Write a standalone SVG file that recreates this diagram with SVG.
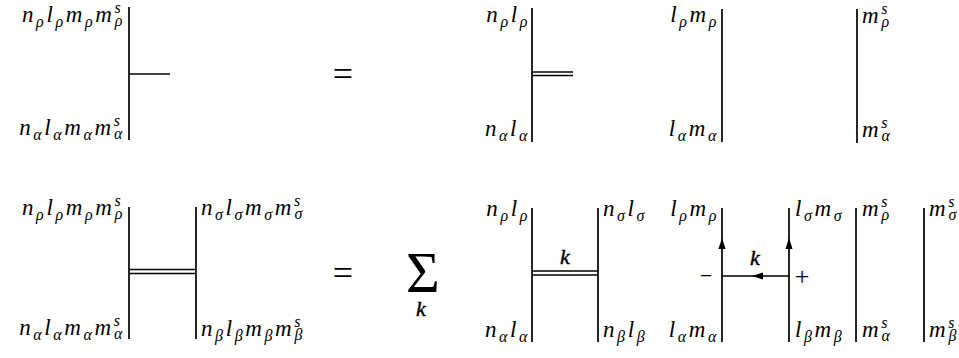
<svg xmlns="http://www.w3.org/2000/svg" width="959" height="358" viewBox="0 0 959 358">
<defs>
<style>
.bg{fill:#fff}
.ln{stroke:#000;stroke-width:1.7;fill:none}
.dl{stroke:#000;stroke-width:1.3;fill:none}
.t{font-family:"Liberation Serif",serif;font-style:italic;font-size:23px;letter-spacing:2.6px;fill:#000}
.s{font-size:16px}
.eq{font-family:"Liberation Serif",serif;font-size:36px;fill:#000;text-anchor:middle}
.sig{font-family:"Liberation Serif",serif;font-size:58px;fill:#000;text-anchor:middle}
.k{font-family:"Liberation Serif",serif;font-style:italic;font-size:22px;fill:#000;stroke:#000;stroke-width:0.4;text-anchor:middle}
.pm{font-family:"Liberation Serif",serif;font-size:26px;fill:#000;text-anchor:middle}
.mn{font-size:22px}
.e{text-anchor:end}
</style>
<path id="ah" d="M0,0 L-3.6,11 L3.6,11 Z" fill="#000"/>
</defs>
<rect class="bg" width="959" height="358"/>

<!-- top row -->
<g id="top-lhs">
<line class="ln" x1="129" y1="7" x2="129" y2="140"/>
<text class="t e" x="125" y="22">n<tspan class="s" dy="5">ρ</tspan><tspan dy="-5">l</tspan><tspan class="s" dy="5">ρ</tspan><tspan dy="-5">m</tspan><tspan class="s" dy="5">ρ</tspan><tspan dy="-5">m</tspan><tspan class="s" dy="-9">s</tspan><tspan class="s" dx="-8.5" dy="13">ρ</tspan></text>
<text class="t e" x="125" y="135">n<tspan class="s" dy="5">α</tspan><tspan dy="-5">l</tspan><tspan class="s" dy="5">α</tspan><tspan dy="-5">m</tspan><tspan class="s" dy="5">α</tspan><tspan dy="-5">m</tspan><tspan class="s" dy="-9">s</tspan><tspan class="s" dx="-8.5" dy="13">α</tspan></text>
</g>
<text id="eq-top" class="eq" x="343" y="86">=</text>
<g id="top-r1">
<line class="ln" x1="532" y1="8" x2="532" y2="142"/>
<text class="t e" x="530" y="22">n<tspan class="s" dy="5">ρ</tspan><tspan dy="-5">l</tspan><tspan class="s" dy="5">ρ</tspan></text>
<text class="t e" x="530" y="136">n<tspan class="s" dy="5">α</tspan><tspan dy="-5">l</tspan><tspan class="s" dy="5">α</tspan></text>
</g>
<g id="top-r2">
<line class="ln" x1="722" y1="9" x2="722" y2="142"/>
<text class="t e" x="719" y="22">l<tspan class="s" dy="5">ρ</tspan><tspan dy="-5">m</tspan><tspan class="s" dy="5">ρ</tspan></text>
<text class="t e" x="719" y="136">l<tspan class="s" dy="5">α</tspan><tspan dy="-5">m</tspan><tspan class="s" dy="5">α</tspan></text>
</g>
<g id="top-r3">
<line class="ln" x1="857" y1="9" x2="857" y2="143"/>
<text class="t" x="862" y="23">m<tspan class="s" dy="-9">s</tspan><tspan class="s" dx="-8.5" dy="13">ρ</tspan></text>
<text class="t" x="862" y="137">m<tspan class="s" dy="-9">s</tspan><tspan class="s" dx="-8.5" dy="13">α</tspan></text>
</g>

<!-- bottom row -->
<g id="bot-lhs">
<line class="ln" x1="129" y1="207" x2="129" y2="339"/>
<line class="ln" x1="196" y1="207" x2="196" y2="339"/>
<text class="t e" x="125" y="215">n<tspan class="s" dy="5">ρ</tspan><tspan dy="-5">l</tspan><tspan class="s" dy="5">ρ</tspan><tspan dy="-5">m</tspan><tspan class="s" dy="5">ρ</tspan><tspan dy="-5">m</tspan><tspan class="s" dy="-9">s</tspan><tspan class="s" dx="-8.5" dy="13">ρ</tspan></text>
<text class="t e" x="125" y="335">n<tspan class="s" dy="5">α</tspan><tspan dy="-5">l</tspan><tspan class="s" dy="5">α</tspan><tspan dy="-5">m</tspan><tspan class="s" dy="5">α</tspan><tspan dy="-5">m</tspan><tspan class="s" dy="-9">s</tspan><tspan class="s" dx="-8.5" dy="13">α</tspan></text>
<text class="t" x="201" y="215">n<tspan class="s" dy="5">σ</tspan><tspan dy="-5">l</tspan><tspan class="s" dy="5">σ</tspan><tspan dy="-5">m</tspan><tspan class="s" dy="5">σ</tspan><tspan dy="-5">m</tspan><tspan class="s" dy="-9">s</tspan><tspan class="s" dx="-8.5" dy="13">σ</tspan></text>
<text class="t" x="201" y="336">n<tspan class="s" dy="5">β</tspan><tspan dy="-5">l</tspan><tspan class="s" dy="5">β</tspan><tspan dy="-5">m</tspan><tspan class="s" dy="5">β</tspan><tspan dy="-5">m</tspan><tspan class="s" dy="-9">s</tspan><tspan class="s" dx="-8.5" dy="13">β</tspan></text>
</g>
<text id="eq-bot" class="eq" x="343" y="285">=</text>
<g id="sum">
<text class="sig" x="423" y="292">Σ</text>
<text class="k" x="421" y="316">k</text>
</g>
<g id="bot-r1">
<line class="ln" x1="532" y1="208" x2="532" y2="342"/>
<line class="ln" x1="598" y1="208" x2="598" y2="342"/>
<text class="t e" x="530" y="216">n<tspan class="s" dy="5">ρ</tspan><tspan dy="-5">l</tspan><tspan class="s" dy="5">ρ</tspan></text>
<text class="t e" x="530" y="337">n<tspan class="s" dy="5">α</tspan><tspan dy="-5">l</tspan><tspan class="s" dy="5">α</tspan></text>
<text class="t" x="603" y="216">n<tspan class="s" dy="5">σ</tspan><tspan dy="-5">l</tspan><tspan class="s" dy="5">σ</tspan></text>
<text class="t" x="603" y="337">n<tspan class="s" dy="5">β</tspan><tspan dy="-5">l</tspan><tspan class="s" dy="5">β</tspan></text>
<text class="k" x="565" y="264">k</text>
</g>
<g id="bot-r2">
<line class="ln" x1="722" y1="208" x2="722" y2="342"/>
<line class="ln" x1="789" y1="208" x2="789" y2="342"/>
<text class="t e" x="719" y="216">l<tspan class="s" dy="5">ρ</tspan><tspan dy="-5">m</tspan><tspan class="s" dy="5">ρ</tspan></text>
<text class="t e" x="719" y="337">l<tspan class="s" dy="5">α</tspan><tspan dy="-5">m</tspan><tspan class="s" dy="5">α</tspan></text>
<text class="t" x="795" y="216">l<tspan class="s" dy="5">σ</tspan><tspan dy="-5">m</tspan><tspan class="s" dy="5">σ</tspan></text>
<text class="t" x="795" y="337">l<tspan class="s" dy="5">β</tspan><tspan dy="-5">m</tspan><tspan class="s" dy="5">β</tspan></text>
<text class="k" x="755" y="265">k</text>
<text class="pm mn" x="706" y="283">−</text>
<text class="pm" x="802" y="285">+</text>
</g>
<g id="bot-r3">
<line class="ln" x1="856" y1="208" x2="856" y2="342"/>
<text class="t" x="862" y="216">m<tspan class="s" dy="-9">s</tspan><tspan class="s" dx="-8.5" dy="13">ρ</tspan></text>
<text class="t" x="862" y="337">m<tspan class="s" dy="-9">s</tspan><tspan class="s" dx="-8.5" dy="13">α</tspan></text>
</g>
<g id="bot-r4">
<line class="ln" x1="924" y1="208" x2="924" y2="342"/>
<text class="t" x="929" y="216">m<tspan class="s" dy="-9">s</tspan><tspan class="s" dx="-8.5" dy="13">σ</tspan></text>
<text class="t" x="929" y="337">m<tspan class="s" dy="-9">s</tspan><tspan class="s" dx="-8.5" dy="13">β</tspan></text>
</g>

<g id="connectors">
<line class="ln" x1="129" y1="74" x2="170" y2="74"/>
<line class="dl" x1="532" y1="72" x2="573" y2="72"/>
<line class="dl" x1="532" y1="75.5" x2="573" y2="75.5"/>
<line class="dl" x1="129" y1="269.5" x2="196" y2="269.5"/>
<line class="dl" x1="129" y1="273.5" x2="196" y2="273.5"/>
<line class="dl" x1="532" y1="271" x2="598" y2="271"/>
<line class="dl" x1="532" y1="275" x2="598" y2="275"/>
<line class="ln" x1="722" y1="276" x2="789" y2="276"/>
<use href="#ah" x="722" y="238"/>
<use href="#ah" x="789" y="238"/>
<use href="#ah" transform="translate(752,276) rotate(-90)"/>
</g>
</svg>
